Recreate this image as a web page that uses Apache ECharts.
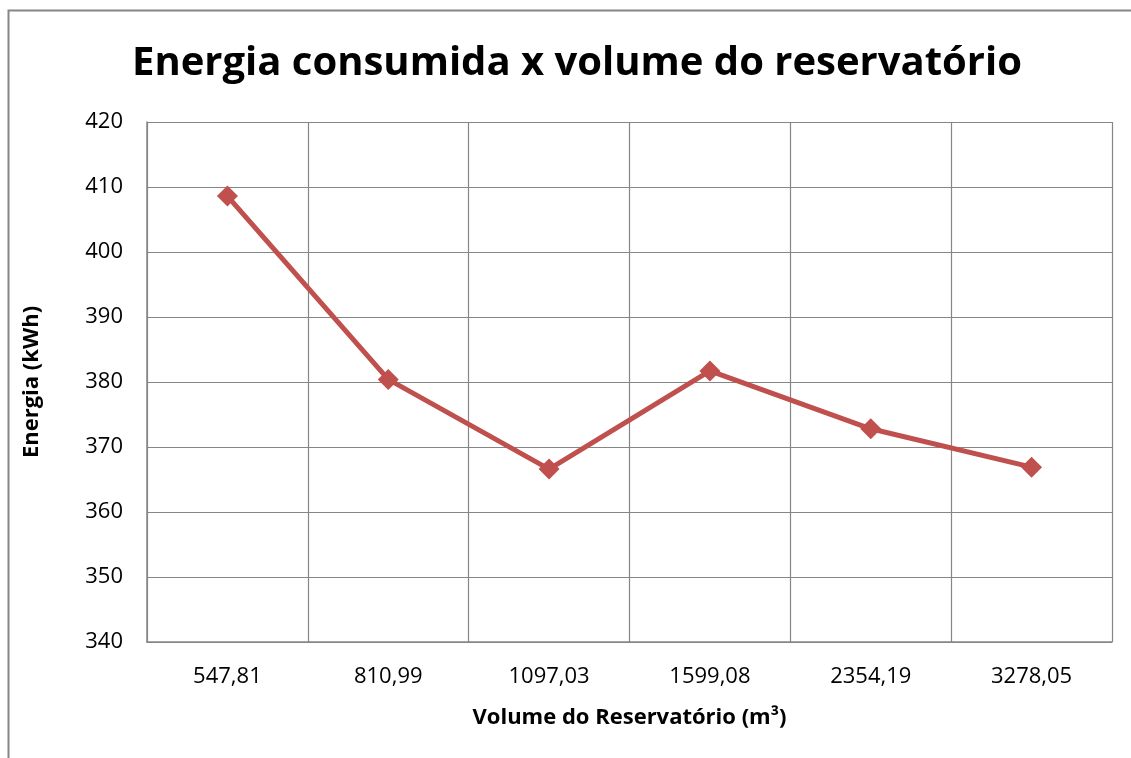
<!DOCTYPE html>
<html>
<head>
<meta charset="utf-8">
<script src="https://cdn.jsdelivr.net/npm/echarts@6/dist/echarts.min.js"></script>
<style>
  html, body { margin: 0; padding: 0; background: #fff; }
  #chart { width: 1131px; height: 758px; }
</style>
</head>
<body>
<div id="chart"></div>
<script>
// volumes (m³) as shown on the category axis
const volumes = ['547,81', '810,99', '1097,03', '1599,08', '2354,19', '3278,05']
// energy consumed (kWh)
const energia = [408.6, 380.4, 366.6, 381.7, 372.8, 366.9]
const yTicks = { min: 340, max: 420, interval: 10 }

const font = '"Open Sans", "Noto Sans", sans-serif'
const chart = echarts.init(document.getElementById('chart'))

chart.setOption({
  animation: false,
  backgroundColor: '#fff',
  title: {
    text: 'Energia consumida x volume do reservatório',
    left: 127,
    top: 39,
    textStyle: { fontFamily: font, fontSize: 40, fontWeight: 'bold', color: '#000' }
  },
  graphic: [{
    type: 'rect',
    shape: { x: 8.5, y: 10.5, width: 1140, height: 770 },
    style: { fill: 'none', stroke: '#868686', lineWidth: 2 },
    silent: true
  }],
  grid: { left: 147, right: 19, top: 122, bottom: 116 },
  xAxis: {
    type: 'category',
    data: volumes,
    boundaryGap: true,
    name: 'Volume do Reservatório (m³)',
    nameLocation: 'middle',
    nameGap: 65,
    nameTextStyle: { fontFamily: font, fontSize: 22, fontWeight: 'bold', color: '#000' },
    axisLine: { lineStyle: { color: '#868686', width: 1.5 } },
    axisTick: { show: false },
    axisLabel: { fontFamily: font, fontSize: 22, color: '#000', margin: 24 },
    splitLine: { show: true, lineStyle: { color: '#868686', width: 1.2 } }
  },
  yAxis: {
    type: 'value',
    min: yTicks.min,
    max: yTicks.max,
    interval: yTicks.interval,
    name: 'Energia (kWh)',
    nameLocation: 'middle',
    nameGap: 104,
    nameTextStyle: { fontFamily: font, fontSize: 22, fontWeight: 'bold', color: '#000' },
    axisLine: { show: true, lineStyle: { color: '#868686', width: 1.5 } },
    axisTick: { show: false },
    axisLabel: { fontFamily: font, fontSize: 22, color: '#000', margin: 24 },
    splitLine: { show: true, lineStyle: { color: '#868686', width: 1.2 } }
  },
  series: [{
    type: 'line',
    data: energia,
    symbol: 'diamond',
    symbolSize: 21,
    lineStyle: { color: '#C0504D', width: 5 },
    itemStyle: { color: '#C0504D' }
  }]
})
</script>
</body>
</html>
